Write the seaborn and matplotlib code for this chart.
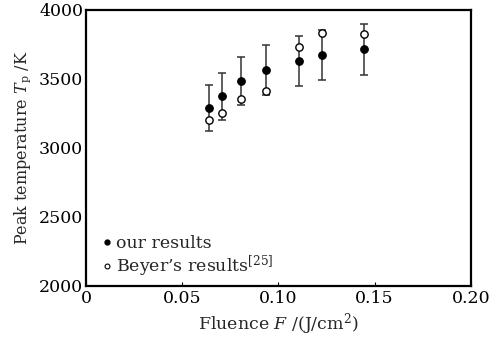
import numpy as np
import pandas as pd
import matplotlib
matplotlib.use("Agg")
import matplotlib.pyplot as plt
import seaborn as sns
from matplotlib.lines import Line2D

fluence = [0.064, 0.0705, 0.0805, 0.0935, 0.1105, 0.1225, 0.1445]
our_T = [3288, 3375, 3483, 3567, 3630, 3675, 3714]
our_err = [165, 170, 173, 180, 182, 183, 186]
beyer_T = [3204, 3252, 3351, 3411, 3728, 3834, 3822]

sns.set_theme(style="ticks")
plt.rcParams['font.family'] = ['DejaVu Serif']
plt.rcParams['mathtext.fontset'] = 'dejavuserif'

fig = plt.figure(figsize=(5.03, 3.42), dpi=100)
ax = fig.add_axes([0.171, 0.164, 0.765, 0.807])

df_our = pd.DataFrame({"F": fluence, "T": our_T})
df_bey = pd.DataFrame({"F": fluence, "T": beyer_T})

ax.errorbar(fluence, our_T, yerr=our_err, fmt='none', ecolor='#333333',
            elinewidth=1.1, capsize=3.2, capthick=1.1, zorder=2)
sns.scatterplot(data=df_bey, x="F", y="T", ax=ax, marker='o', s=28,
                facecolor='white', edgecolor='black', linewidth=1.0, zorder=3)
sns.scatterplot(data=df_our, x="F", y="T", ax=ax, marker='o', s=30,
                color='black', edgecolor='black', linewidth=0.8, zorder=4)

ax.set_xlim(0, 0.20)
ax.set_ylim(2000, 4000)
ax.set_xticks([0, 0.05, 0.10, 0.15, 0.20])
ax.set_xticklabels(["0", "0.05", "0.10", "0.15", "0.20"])
ax.set_yticks([2000, 2500, 3000, 3500, 4000])
ax.tick_params(direction='in', length=3, width=0.8, labelsize=12.5, colors='black', pad=3)
ax.tick_params(axis='y', length=0, pad=2)
for s in ax.spines.values():
    s.set_linewidth(1.6)
    s.set_color('black')

ax.set_xlabel("Fluence $F$ /(J/cm$^2$)", fontsize=12.5, labelpad=3)
ax.set_ylabel("Peak temperature $T_{\\mathrm{p}}$ /K", fontsize=11.5, labelpad=4)

handles = [Line2D([], [], marker='o', linestyle='none', markersize=3.5,
                  markerfacecolor='black', markeredgecolor='black'),
           Line2D([], [], marker='o', linestyle='none', markersize=3.5,
                  markerfacecolor='white', markeredgecolor='black', markeredgewidth=0.8)]
ax.legend(handles, ["our results", "Beyer\u2019s results$^{[25]}$"], loc='lower left',
          bbox_to_anchor=(0.046, 0.025), frameon=False, fontsize=12.5,
          handlelength=0.4, handletextpad=0.3, labelspacing=0.1,
          borderpad=0, borderaxespad=0)

fig.savefig("out.png", dpi=100, facecolor='white')
